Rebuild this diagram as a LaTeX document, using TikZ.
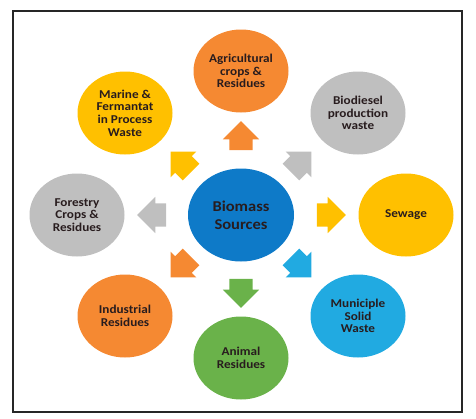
\documentclass[tikz,border=0pt]{standalone}
\usepackage{fontspec}
\setmainfont{Carlito}[FakeStretch=1.1]
\usetikzlibrary{shapes.geometric,shapes.arrows}

\definecolor{srcblue}{RGB}{14,122,200}
\definecolor{agorange}{RGB}{245,137,50}
\definecolor{mryellow}{RGB}{255,192,0}
\definecolor{bdgray}{RGB}{191,191,191}
\definecolor{mslblue}{RGB}{33,170,225}
\definecolor{angreen}{RGB}{106,178,74}
\definecolor{txtdark}{RGB}{40,28,30}

\tikzset{
  source/.style={ellipse,fill=#1,inner sep=0pt,minimum width=95pt,minimum height=83pt,
    align=center,font=\bfseries\fontsize{12}{12.6}\selectfont,text=txtdark},
  blockarrow/.style={single arrow,fill=#1,inner xsep=0pt,inner ysep=11.5pt,
    minimum height=29pt,single arrow head extend=6.5pt,single arrow head indent=0pt}
}

\begin{document}
\begin{tikzpicture}[x=1pt,y=-1pt]
    \useasboundingbox (0,0) rectangle (476,418);
    \draw[line width=1.5pt,black!85] (13,11) rectangle (462,412);

    \node[source=srcblue,minimum width=106pt,minimum height=93pt,
      font=\bfseries\fontsize{15}{17.7}\selectfont] (bio) at (241,215) {Biomass\\Sources};

    \node[source=agorange] (agri) at (241,71) {Agricultural\\crops \&\\Residues};
    \node[source=mryellow] (marine) at (125,113) {Marine \&\\Fermantat\\in Process\\Waste};
    \node[source=bdgray] (diesel) at (358,113) {Biodiesel\\production\\waste};
    \node[source=bdgray] (forest) at (77,215) {Forestry\\Crops \&\\Residues};
    \node[source=mryellow] (sewage) at (406,215) {Sewage};
    \node[source=agorange] (indus) at (125,316) {Industrial\\Residues};
    \node[source=mslblue] (msw) at (358,316) {Municiple\\Solid\\Waste};
    \node[source=angreen] (animal) at (241,358) {Animal\\Residues};

    % arrows out of the centre
    \node[blockarrow=agorange,rotate=90] (toagri) at (241,141.5) {};
    \node[blockarrow=mryellow,rotate=135] (tomarine) at (185,166) {};
    \node[blockarrow=bdgray,rotate=45] (todiesel) at (297,166) {};
    \node[blockarrow=bdgray,rotate=180] (toforest) at (157.5,215) {};
    \node[blockarrow=mryellow] (tosewage) at (325.5,215) {};
    \node[blockarrow=agorange,rotate=225] (toindus) at (185,263) {};
    \node[blockarrow=mslblue,rotate=-45] (tomsw) at (297,263) {};
    \node[blockarrow=angreen,rotate=-90] (toanimal) at (241,287.5) {};
\end{tikzpicture}
\end{document}
